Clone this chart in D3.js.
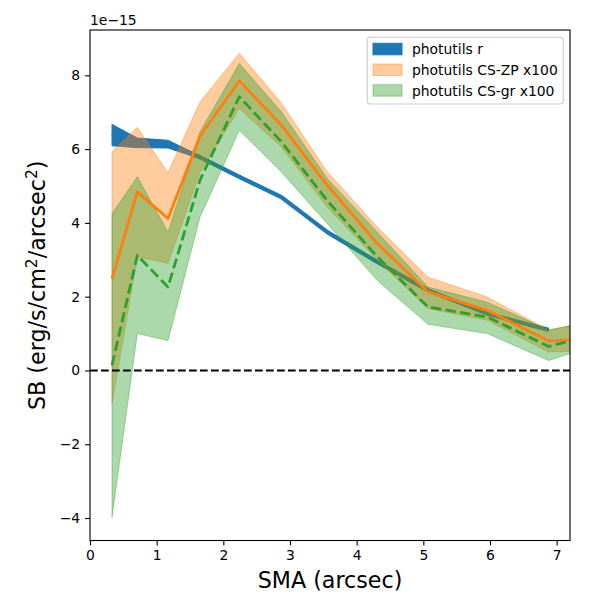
<!DOCTYPE html>
<html><head><meta charset="utf-8">
<script src="https://cdn.jsdelivr.net/npm/d3@7"></script>
<style>body{margin:0;background:#fff}svg{font-family:"DejaVu Sans",sans-serif}</style>
</head><body><svg id="c" width="600" height="600"></svg>
<script>
// SMA (arcsec)
const sma = [0.33, 0.71, 1.17, 1.65, 2.24, 2.87, 3.56, 4.31, 5.07, 5.96, 6.88, 7.85];
// photutils r (units of 1e-15)
const rVal   = [6.41, 6.19, 6.15, 5.78, 5.25, 4.70, 3.75, 2.94, 2.17, 1.54, 1.10];
const rUpper = [6.67, 6.30, 6.24, 5.82, 5.29, 4.74, 3.79, 2.98, 2.20, 1.57, 1.12];
const rLower = [6.09, 6.04, 6.03, 5.74, 5.21, 4.66, 3.71, 2.90, 2.14, 1.51, 1.08];
// photutils CS-ZP x100
const zpVal   = [2.49, 4.84, 4.12, 6.35, 7.85, 6.65, 5.02, 3.44, 2.13, 1.63, 0.80, 0.89];
const zpUpper = [5.93, 6.59, 5.36, 7.28, 8.60, 7.25, 5.38, 3.89, 2.53, 1.99, 1.09, 1.45];
const zpLower = [-0.90, 3.08, 2.90, 5.37, 7.10, 6.06, 4.43, 2.99, 1.68, 1.36, 0.50, 0.55];
// photutils CS-gr x100
const grVal   = [0.14, 3.12, 2.26, 5.16, 7.42, 6.20, 4.60, 3.08, 1.72, 1.45, 0.65, 1.10];
const grUpper = [4.25, 5.25, 3.75, 6.47, 8.32, 7.01, 5.20, 3.75, 2.26, 1.85, 1.10, 1.44];
const grLower = [-3.98, 1.00, 0.81, 4.16, 6.51, 5.38, 3.98, 2.44, 1.25, 1.00, 0.27, 0.84];
const xTicks = [0, 1, 2, 3, 4, 5, 6, 7];
const yTicks = [-4, -2, 0, 2, 4, 6, 8];
const legendLabels = ["photutils r", "photutils CS-ZP x100", "photutils CS-gr x100"];

const W = 600, H = 600, L = 90, T = 30, R = 570, B = 540.5;
const svg = d3.select("#c");
const allY = [...rUpper, ...rLower, ...zpUpper, ...zpLower, ...grUpper, ...grLower];
const ymin = d3.min(allY), ymax = d3.max(allY), pad = 0.05 * (ymax - ymin);
const x = d3.scaleLinear().domain([0, 7.2]).range([L, R]);
const y = d3.scaleLinear().domain([ymin - pad, ymax + pad]).range([B, T]);

svg.append("defs").append("clipPath").attr("id", "clip")
  .append("rect").attr("x", L).attr("y", T).attr("width", R - L).attr("height", B - T);
const g = svg.append("g").attr("clip-path", "url(#clip)");

const blue = "#1f77b4", orange = "#ff7f0e", green = "#2ca02c";
function band(lo, hi, n) {
  const d = d3.range(n).map(i => ({x: sma[i], lo: lo[i], hi: hi[i]}));
  return d3.area().x(p => x(p.x)).y0(p => y(p.lo)).y1(p => y(p.hi))(d);
}
function line(v) {
  return d3.line().x((p, i) => x(sma[i])).y(p => y(p))(v);
}
// blue band + line
g.append("path").attr("d", band(rLower, rUpper, rVal.length)).attr("fill", blue).attr("stroke", blue).attr("stroke-width", 1);
g.append("path").attr("d", line(rVal)).attr("fill", "none").attr("stroke", blue).attr("stroke-width", 4.2).attr("stroke-linejoin", "round").attr("stroke-linecap", "butt");
// orange band
g.append("path").attr("d", band(zpLower, zpUpper, zpVal.length)).attr("fill", orange).attr("fill-opacity", 0.4)
  .attr("stroke", orange).attr("stroke-opacity", 0.4).attr("stroke-width", 1);
// green band
g.append("path").attr("d", band(grLower, grUpper, grVal.length)).attr("fill", green).attr("fill-opacity", 0.4)
  .attr("stroke", green).attr("stroke-opacity", 0.4).attr("stroke-width", 1);
// orange line
g.append("path").attr("d", line(zpVal)).attr("fill", "none").attr("stroke", orange).attr("stroke-width", 2.8).attr("stroke-linejoin", "round");
// green dashed
g.append("path").attr("d", line(grVal)).attr("fill", "none").attr("stroke", green).attr("stroke-width", 2.8)
  .attr("stroke-dasharray", "10.3,4.4").attr("stroke-linejoin", "round");
// zero line
g.append("line").attr("x1", L).attr("x2", R).attr("y1", y(0)).attr("y2", y(0))
  .attr("stroke", "#000").attr("stroke-width", 2.1).attr("stroke-dasharray", "7.7,3.3");

// axes
const xa = svg.append("g").attr("transform", `translate(0,${B})`)
  .call(d3.axisBottom(x).tickValues(xTicks).tickFormat(d3.format("d")).tickSize(4.9).tickPadding(4.9));
const ya = svg.append("g").attr("transform", `translate(${L},0)`)
  .call(d3.axisLeft(y).tickValues(yTicks).tickFormat(d => d < 0 ? "\u2212" + Math.abs(d) : d).tickSize(4.9).tickPadding(4.9));
[xa, ya].forEach(a => {
  a.select(".domain").remove();
  a.selectAll("line").attr("stroke", "#000").attr("stroke-width", 1.1);
  a.selectAll("text").attr("font-size", 13.9).attr("fill", "#000").attr("font-family", "DejaVu Sans");
});
svg.append("rect").attr("x", L).attr("y", T).attr("width", R - L).attr("height", B - T)
  .attr("fill", "none").attr("stroke", "#000").attr("stroke-width", 1.1);

// labels
svg.append("text").attr("x", (L + R) / 2).attr("y", 588).attr("text-anchor", "middle")
  .attr("font-size", 22.2).text("SMA (arcsec)");
const yl = svg.append("text").attr("transform", `translate(45,${(T + B) / 2}) rotate(-90)`)
  .attr("text-anchor", "middle").attr("font-size", 22.2);
yl.append("tspan").text("SB (erg/s/cm");
yl.append("tspan").attr("dy", -8).attr("font-size", 15.5).text("2");
yl.append("tspan").attr("dy", 8).text("/arcsec");
yl.append("tspan").attr("dy", -8).attr("font-size", 15.5).text("2");
yl.append("tspan").attr("dy", 8).text(")");
svg.append("text").attr("x", L).attr("y", 25).attr("font-size", 13.9).text("1e\u221215");

// legend
const lg = svg.append("g");
lg.append("rect").attr("x", 367.3).attr("y", 37.3).attr("width", 196).attr("height", 66.7)
  .attr("rx", 3).attr("fill", "#fff").attr("fill-opacity", 0.8).attr("stroke", "#ccc").attr("stroke-width", 1.1);
const legCols = [[blue, 1], [orange, 0.4], [green, 0.4]];
legendLabels.forEach((lab, i) => {
  const cy = 49.3 + i * 20.7;
  lg.append("rect").attr("x", 373).attr("y", cy - 6).attr("width", 29).attr("height", 11.5)
    .attr("fill", legCols[i][0]).attr("fill-opacity", legCols[i][1])
    .attr("stroke", legCols[i][0]).attr("stroke-opacity", legCols[i][1]).attr("stroke-width", 1);
  lg.append("text").attr("x", 412).attr("y", cy + 5).attr("font-size", 13.9).text(lab);
});
</script></body></html>
